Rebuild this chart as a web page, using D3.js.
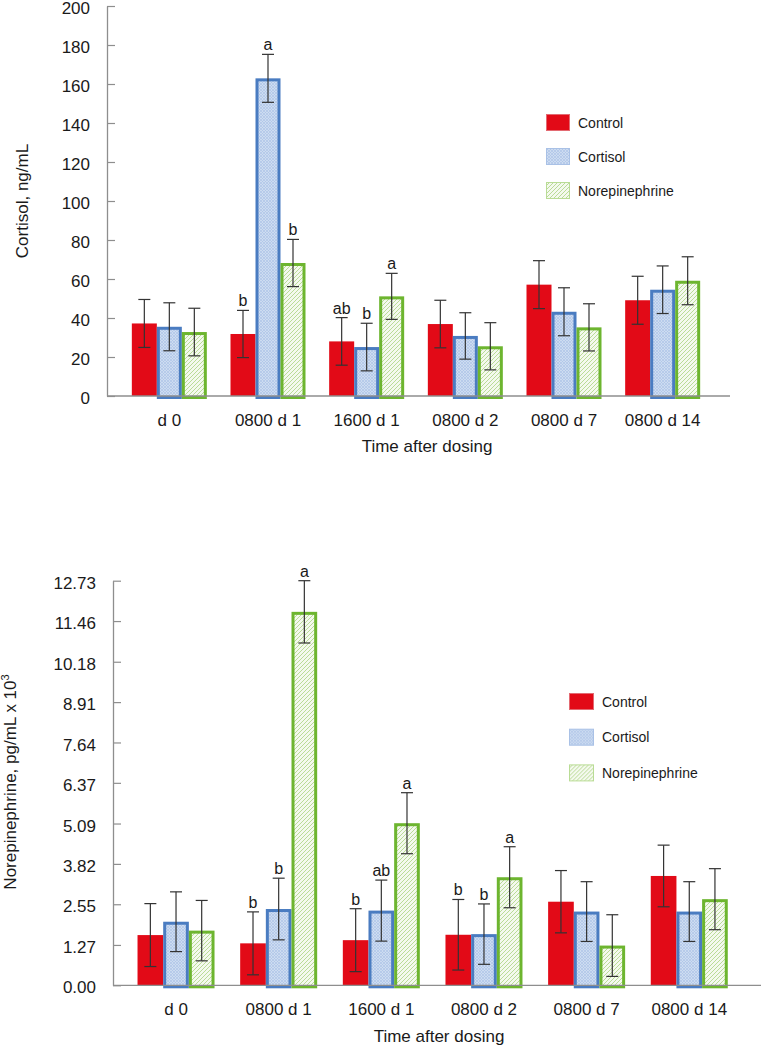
<!DOCTYPE html>
<html>
<head>
<meta charset="utf-8">
<script src="https://cdn.jsdelivr.net/npm/d3@7"></script>
<style>
  html, body { margin: 0; padding: 0; background: #fff; }
  svg text { font-family: "Liberation Sans", Arial, sans-serif; fill: #1a1a1a; }
</style>
</head>
<body>
<svg id="chart" width="780" height="1049"></svg>
<script>
// ---------- data ----------
const categories = ["d 0", "0800 d 1", "1600 d 1", "0800 d 2", "0800 d 7", "0800 d 14"];
const seriesNames = ["Control", "Cortisol", "Norepinephrine"];

// Top panel: plasma cortisol (ng/mL)
const cortControl = [37.2, 31.8, 28.0, 36.9, 57.1, 49.1];
const cortCortisol = [35.5, 162.9, 25.1, 30.8, 43.2, 54.5];
const cortNE = [32.8, 68.2, 51.1, 25.5, 35.2, 59.1];
const cortControlErr = [12.3, 12.1, 12.2, 12.2, 12.3, 12.3];
const cortCortisolErr = [12.3, 12.3, 12.2, 11.9, 12.3, 12.2];
const cortNEErr = [12.2, 12.1, 11.8, 12.1, 12.1, 12.3];
const cortLetters = [["", "", ""], ["b", "a", "b"], ["ab", "b", "a"], ["", "", ""], ["", "", ""], ["", "", ""]];
const cortTicks = [0, 20, 40, 60, 80, 100, 120, 140, 160, 180, 200];

// Bottom panel: plasma norepinephrine (pg/mL x 10^3)
const neControl = [1.58, 1.32, 1.42, 1.59, 2.63, 3.44];
const neCortisol = [2.00, 2.40, 2.35, 1.61, 2.32, 2.32];
const neNE = [1.72, 11.75, 5.10, 3.40, 1.25, 2.71];
const neControlErr = [0.99, 0.99, 0.99, 1.11, 0.98, 0.97];
const neCortisolErr = [0.94, 0.97, 0.96, 0.95, 0.94, 0.94];
const neNEErr = [0.95, 0.98, 0.96, 0.96, 0.97, 0.96];
const neLetters = [["", "", ""], ["b", "b", "a"], ["b", "ab", "a"], ["b", "b", "a"], ["", "", ""], ["", "", ""]];
const neTicks = [0.00, 1.27, 2.55, 3.82, 5.09, 6.37, 7.64, 8.91, 10.18, 11.46, 12.73];

// ---------- styles ----------
const svg = d3.select("#chart");
const defs = svg.append("defs");

// cortisol: fine light-blue crosshatch
const pBlue = defs.append("pattern").attr("id", "hatchBlue").attr("patternUnits", "userSpaceOnUse")
  .attr("width", 3).attr("height", 3);
pBlue.append("rect").attr("width", 3).attr("height", 3).attr("fill", "#cddcf1");
pBlue.append("path").attr("d", "M0,3 L3,0 M0,0 L3,3").attr("stroke", "#adc4e6").attr("stroke-width", 0.7);

// norepinephrine: light-green diagonal hatch
const pGreen = defs.append("pattern").attr("id", "hatchGreen").attr("patternUnits", "userSpaceOnUse")
  .attr("width", 4).attr("height", 4);
pGreen.append("rect").attr("width", 4).attr("height", 4).attr("fill", "#f4f9ee");
pGreen.append("path").attr("d", "M-1,1 L1,-1 M0,4 L4,0 M3,5 L5,3").attr("stroke", "#b3d88d").attr("stroke-width", 0.9);

const fills = ["#e20a17", "url(#hatchBlue)", "url(#hatchGreen)"];
const strokes = ["none", "#4a7cc1", "#6db52f"];
const legendStrokes = ["#e36a72", "#a9c1e6", "#b9dc95"];

function drawPanel(cfg) {
  const g = svg.append("g");
  const y = d3.scaleLinear().domain([0, cfg.yMax]).range([cfg.y0, cfg.yTop]);
  const x0 = d3.scaleBand().domain(categories).range(cfg.bandRange);
  const off = (x0.bandwidth() - cfg.groupW) / 2;
  const x1 = d3.scaleBand().domain(seriesNames).range([off, off + cfg.groupW]);

  const series = seriesNames.map((name, si) => ({
    name, si,
    values: cfg.values[si].map((v, ci) => ({ cat: categories[ci], v, e: cfg.errs[si][ci], letter: cfg.letters[ci][si] }))
  }));

  // y axis
  const yAxis = d3.axisLeft(y).tickValues(cfg.ticks).tickSize(0).tickPadding(17)
    .tickFormat(cfg.fmt);
  const ya = g.append("g").attr("transform", `translate(${cfg.axisX},0)`).call(yAxis);
  ya.select(".domain").attr("stroke", "#8e8e8e").attr("stroke-width", 1.3);
  ya.selectAll("text").style("font-size", "17px").attr("fill", "#1a1a1a").attr("dy", "0.45em");
  ya.selectAll(".tick").append("line").attr("x1", 0).attr("x2", 8).attr("stroke", "#8e8e8e").attr("stroke-width", 1.2);

  // bars
  const sg = g.selectAll("g.series").data(series).enter().append("g").attr("class", "series");
  sg.each(function (s) {
    const sw = s.si === 0 ? 0 : 3;
    d3.select(this).selectAll("rect").data(s.values).enter().append("rect")
      .attr("x", d => x0(d.cat) + x1(s.name) + sw / 2)
      .attr("y", d => y(d.v) + sw / 2)
      .attr("width", x1.bandwidth() - sw)
      .attr("height", d => y(0) - y(d.v))
      .attr("fill", fills[s.si])
      .attr("stroke", strokes[s.si])
      .attr("stroke-width", sw);
  });

  // x axis baseline
  g.append("line").attr("x1", cfg.axisX).attr("x2", cfg.axisEnd).attr("y1", y(0)).attr("y2", y(0))
    .attr("stroke", "#8e8e8e").attr("stroke-width", 1.3);

  // error bars + letters
  const cap = 6;
  sg.each(function (s) {
    const eg = d3.select(this).selectAll("g.err").data(s.values).enter().append("g").attr("class", "err");
    const cx = d => x0(d.cat) + x1(s.name) + x1.bandwidth() / 2;
    eg.append("line").attr("x1", cx).attr("x2", cx).attr("y1", d => y(d.v + d.e)).attr("y2", d => y(d.v - d.e))
      .attr("stroke", "#333").attr("stroke-width", 1.2);
    eg.append("line").attr("x1", d => cx(d) - cap).attr("x2", d => cx(d) + cap).attr("y1", d => y(d.v + d.e)).attr("y2", d => y(d.v + d.e))
      .attr("stroke", "#333").attr("stroke-width", 1.2);
    eg.append("line").attr("x1", d => cx(d) - cap).attr("x2", d => cx(d) + cap).attr("y1", d => y(d.v - d.e)).attr("y2", d => y(d.v - d.e))
      .attr("stroke", "#333").attr("stroke-width", 1.2);
    eg.filter(d => d.letter).append("text").attr("x", cx).attr("y", d => y(d.v + d.e) - 4)
      .attr("text-anchor", "middle").style("font-size", "16px").text(d => d.letter);
  });

  // category labels
  g.selectAll("text.cat").data(categories).enter().append("text").attr("class", "cat")
    .attr("x", d => x0(d) + x0.bandwidth() / 2).attr("y", y(0) + cfg.catDy)
    .attr("text-anchor", "middle").style("font-size", "17px").text(d => d);

  // x title
  g.append("text").attr("x", cfg.xTitleX).attr("y", cfg.xTitleY).attr("text-anchor", "middle")
    .style("font-size", "17px").text("Time after dosing");

  // y title
  const yt = g.append("text").attr("transform", `translate(${cfg.yTitleX},${cfg.yTitleY}) rotate(-90)`)
    .attr("text-anchor", "middle").style("font-size", "17px");
  cfg.yTitle(yt);

  // legend
  const lg = g.append("g").attr("transform", `translate(${cfg.legX},${cfg.legY})`);
  seriesNames.forEach((name, i) => {
    const row = lg.append("g").attr("transform", `translate(0,${i * cfg.legStep})`);
    row.append("rect").attr("x", 0.5).attr("y", 0.5).attr("width", cfg.legW - 1).attr("height", 16)
      .attr("fill", fills[i]).attr("stroke", legendStrokes[i]).attr("stroke-width", 1);
    row.append("text").attr("x", cfg.legW + 8).attr("y", 13.5).style("font-size", "14px").text(name);
  });
}

drawPanel({
  values: [cortControl, cortCortisol, cortNE],
  errs: [cortControlErr, cortCortisolErr, cortNEErr],
  letters: cortLetters,
  ticks: cortTicks, fmt: d3.format("d"), yMax: 200,
  y0: 396, yTop: 6, axisX: 107, axisEnd: 730,
  bandRange: [120, 712], groupW: 75, catDy: 30,
  xTitleX: 427, xTitleY: 452,
  yTitleX: 28, yTitleY: 201,
  yTitle: t => t.text("Cortisol,  ng/mL"),
  legX: 546, legY: 114, legStep: 34, legW: 24
});

drawPanel({
  values: [neControl, neCortisol, neNE],
  errs: [neControlErr, neCortisolErr, neNEErr],
  letters: neLetters,
  ticks: neTicks, fmt: d3.format(".2f"), yMax: 12.73,
  y0: 985.3, yTop: 580.7, axisX: 113, axisEnd: 761,
  bandRange: [124.7, 740.6], groupW: 77, catDy: 30,
  xTitleX: 439, xTitleY: 1042,
  yTitleX: 16, yTitleY: 782,
  yTitle: t => {
    t.append("tspan").text("Norepinephrine, pg/mL x 10");
    t.append("tspan").attr("dy", -7).style("font-size", "11px").text("3");
  },
  legX: 569, legY: 693, legStep: 35.7, legW: 25
});
</script>
</body>
</html>
